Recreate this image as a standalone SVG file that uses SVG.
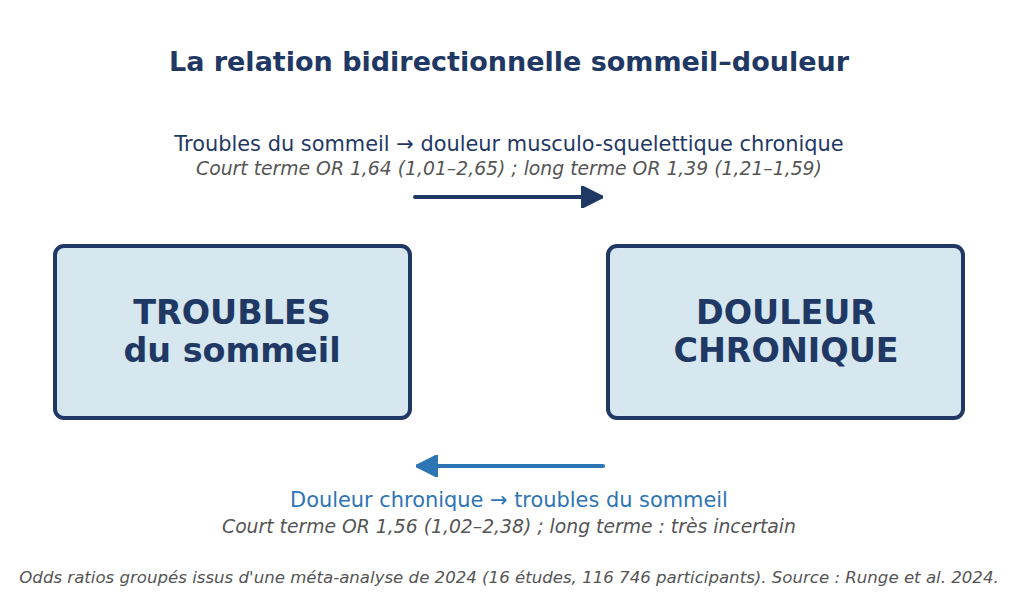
<svg xmlns="http://www.w3.org/2000/svg" width="1018" height="607" viewBox="0 0 1018 607">
<defs>
<style>
text{font-family:"DejaVu Sans","Liberation Sans",sans-serif;text-anchor:middle}
.title{font-size:27px;font-weight:bold;fill:#1f3864}
.sub{font-size:20.9px;fill:#1f3864}
.sub2{font-size:20.9px;fill:#2e75b6}
.it{font-size:18.8px;font-style:italic;fill:#555555}
.foot{font-size:16.6px;font-style:italic;fill:#555555}
.box{fill:#d6e7f0;stroke:#1f3864;stroke-width:4}
.lbl{font-size:33.4px;font-weight:bold;fill:#1f3864}
</style>
<marker id="ah1" viewBox="0 0 10 10" refX="9" refY="5" markerWidth="5.5" markerHeight="5.5" orient="auto" markerUnits="strokeWidth"><path d="M0,0 L10,5 L0,10 z" fill="#1f3864" stroke="#1f3864" stroke-linejoin="round"/></marker>
<marker id="ah2" viewBox="0 0 10 10" refX="9" refY="5" markerWidth="5.5" markerHeight="5.5" orient="auto" markerUnits="strokeWidth"><path d="M0,0 L10,5 L0,10 z" fill="#2e75b6" stroke="#2e75b6" stroke-linejoin="round"/></marker>
</defs>
<rect width="1018" height="607" fill="#ffffff"/>
<text class="title" x="509" y="71">La relation bidirectionnelle sommeil–douleur</text>
<g id="node-troubles">
<rect class="box" x="55" y="246" width="355" height="172" rx="9"/>
<text class="lbl" x="232" y="324">TROUBLES</text>
<text class="lbl" x="232" y="362">du sommeil</text>
</g>
<g id="node-douleur">
<rect class="box" x="608" y="246" width="355" height="172" rx="9"/>
<text class="lbl" x="786" y="324">DOULEUR</text>
<text class="lbl" x="786" y="362">CHRONIQUE</text>
</g>
<g id="connectors">
<g id="edge-top">
<text class="sub" x="509" y="151">Troubles du sommeil → douleur musculo-squelettique chronique</text>
<text class="it" x="509" y="175">Court terme OR 1,64 (1,01–2,65) ; long terme OR 1,39 (1,21–1,59)</text>
<line x1="415" y1="197" x2="601" y2="197" stroke="#1f3864" stroke-width="4" stroke-linecap="round" marker-end="url(#ah1)"/>
</g>
<g id="edge-bottom">
<line x1="603" y1="466" x2="418" y2="466" stroke="#2e75b6" stroke-width="4" stroke-linecap="round" marker-end="url(#ah2)"/>
<text class="sub2" x="509" y="507">Douleur chronique → troubles du sommeil</text>
<text class="it" x="509" y="533">Court terme OR 1,56 (1,02–2,38) ; long terme : très incertain</text>
</g>
</g>
<text class="foot" x="509" y="583">Odds ratios groupés issus d'une méta-analyse de 2024 (16 études, 116 746 participants). Source : Runge et al. 2024.</text>
</svg>
